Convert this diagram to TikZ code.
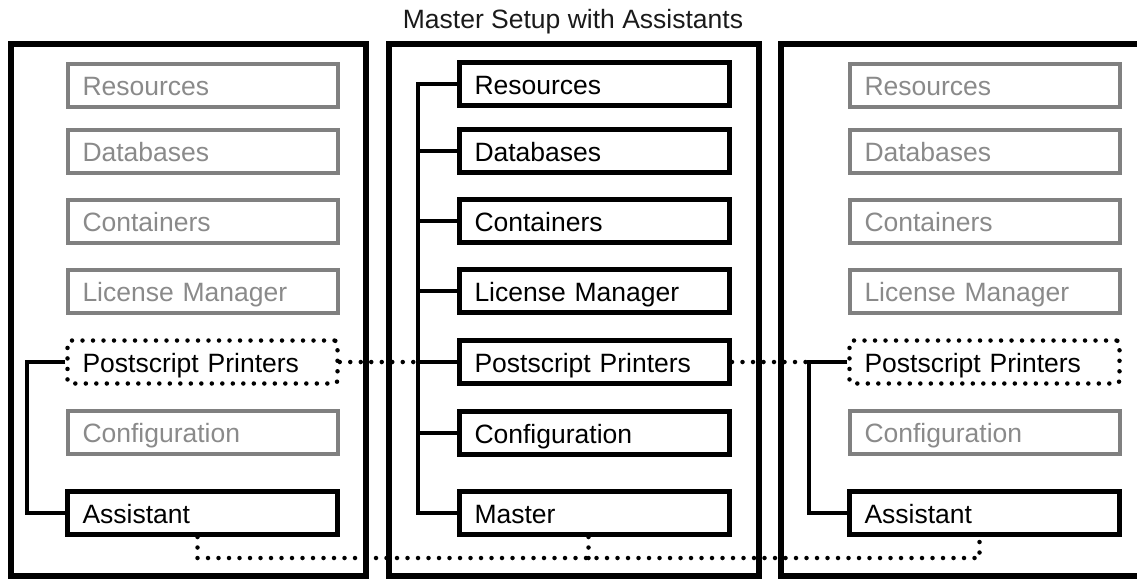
\documentclass[tikz,border=0pt]{standalone}
\usepackage{fontspec}
\setmainfont{Liberation Sans}
\definecolor{gboxc}{HTML}{808080}
\definecolor{gtextc}{HTML}{8A8A8A}
\definecolor{titlec}{HTML}{1A1A1A}
\begin{document}
\begin{tikzpicture}[x=1pt,y=-1pt,
  outer/.style={draw, line width=6pt},
  bx/.style={draw, line width=5pt, minimum height=43pt, inner xsep=15pt, text width=240pt,
    align=left, text height=21pt, text depth=0pt, font=\fontsize{26.5}{30}\selectfont},
  gbx/.style={bx, draw=gboxc, line width=4pt, text=gtextc},
  dbx/.style={bx, line width=4.5pt, line cap=round, dash pattern=on 0pt off 10.5pt, rounded corners=3pt},
  trunk/.style={line width=4.5pt},
  dots/.style={line width=4.5pt, line cap=round, dash pattern=on 0pt off 10.5pt}]
\useasboundingbox (0,0) rectangle (1137,579);
\clip (0,0) rectangle (1137,579);

\node[font=\fontsize{26.5}{30}\selectfont, text=titlec] (title) at (573,22) {Master Setup with Assistants};

% outer boxes
\draw[outer] (11,44) rectangle (366,576);
\draw[outer] (389,44) rectangle (759,576);
\draw[outer] (781,44) rectangle (1140,576);

% left column
\node[gbx] (lres) at (202.5,85) {Resources};
\node[gbx] (ldb)  at (202.5,151) {Databases};
\node[gbx] (lcon) at (202.5,221) {Containers};
\node[gbx] (llic) at (202.5,291) {License Manager};
\node[dbx] (lps)  at (202.5,362) {Postscript Printers};
\node[gbx] (lcfg) at (202.5,432) {Configuration};
\node[bx]  (las)  at (202.5,513) {Assistant};

% middle column
\node[bx] (mres) at (594.5,84) {Resources};
\node[bx] (mdb)  at (594.5,151) {Databases};
\node[bx] (mcon) at (594.5,221) {Containers};
\node[bx] (mlic) at (594.5,291) {License Manager};
\node[bx] (mps)  at (594.5,362) {Postscript Printers};
\node[bx] (mcfg) at (594.5,433) {Configuration};
\node[bx] (mmas) at (594.5,513) {Master};

% right column
\node[gbx] (rres) at (984.5,85) {Resources};
\node[gbx] (rdb)  at (984.5,151) {Databases};
\node[gbx] (rcon) at (984.5,221) {Containers};
\node[gbx] (rlic) at (984.5,291) {License Manager};
\node[dbx] (rps)  at (984.5,362) {Postscript Printers};
\node[gbx] (rcfg) at (984.5,432) {Configuration};
\node[bx]  (ras)  at (984.5,513) {Assistant};

% trunk coordinates
\coordinate (mt) at (418,0);
\coordinate (lt) at (27,0);
\coordinate (rt) at (809,0);
\coordinate (bl) at (0,558);

% connectors
\draw[trunk] (mres.west) -- (mres.west -| mt) -- (mmas.west -| mt) -- (mmas.west);
\foreach \n in {mdb,mcon,mlic,mps,mcfg} \draw[trunk] (\n.west -| mt) -- (\n.west);
\draw[trunk] (lps.west) -- (lps.west -| lt) -- (las.west -| lt) -- (las.west);
\draw[trunk] (rps.west) -- (rps.west -| rt) -- (ras.west -| rt) -- (ras.west);
\draw[dots] (lps.east) -- (mps.west -| mt);
\draw[dots] (mps.east) -- (rps.west -| rt);
\draw[dots] ([xshift=-5pt]las.south) -- ([xshift=-5pt]las.south |- bl) -- ([xshift=-5pt]ras.south |- bl) -- ([xshift=-5pt]ras.south);
\draw[dots] ([xshift=-6pt]mmas.south) -- ([xshift=-6pt]mmas.south |- bl);
\end{tikzpicture}
\end{document}
